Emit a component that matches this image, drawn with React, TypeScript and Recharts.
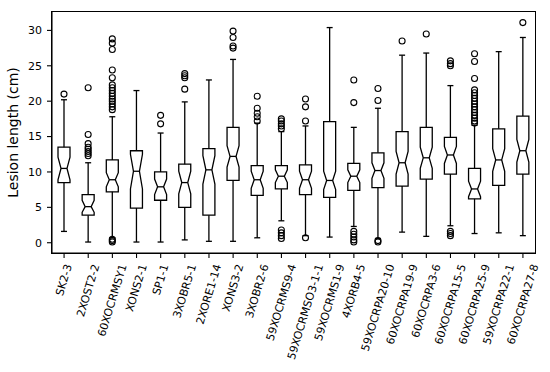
import React from "react";
import { ComposedChart, Bar, XAxis, YAxis, Label } from "recharts";

// Genotype / isolate categories along the x axis
const categories = [
  "SK2-3", "2XOST2-2", "60XOCRMSY1", "XONS2-1", "SP1-1", "3XOBR5-1", "2XORE1-14",
  "XONS3-2", "3XOBR2-6", "59XOCRMS9-4", "59XOCRMSO3-1-1", "59XOCRMS1-9", "4XORB4-5",
  "59XOCRPA20-10", "60XOCRPA19-9", "60XOCRPA3-6", "60XOCRPA15-5", "60XOCRPA25-9",
  "59XOCRPA22-1", "60XOCRPA27-8",
];

// Box statistics (cm)
const whiskerLow = [1.6, 0.1, 0.7, 0.1, 0.1, 0.4, 0.2, 0.2, 0.7, 3.1, 1.0, 0.8, 2.3, 0.6, 1.5, 0.9, 2.4, 1.3, 1.4, 1.0];
const q1 = [8.5, 3.9, 7.2, 4.9, 6.0, 5.0, 3.9, 8.8, 6.7, 7.6, 6.8, 6.4, 7.4, 7.8, 8.0, 9.0, 9.7, 6.2, 8.1, 9.7];
const median = [10.5, 5.1, 8.9, 10.1, 7.9, 8.5, 10.3, 12.2, 8.9, 9.4, 8.9, 8.8, 9.4, 10.2, 11.3, 12.0, 12.4, 7.6, 11.7, 13.0];
const q3 = [13.5, 6.8, 11.7, 13.0, 10.0, 11.1, 13.3, 16.3, 10.9, 10.9, 11.0, 17.1, 11.2, 12.7, 15.7, 16.3, 14.9, 10.5, 16.1, 17.9];
const whiskerHigh = [20.2, 11.3, 17.8, 21.5, 15.5, 19.9, 23.0, 25.9, 16.9, 15.7, 16.5, 30.4, 16.3, 19.0, 26.5, 26.8, 22.2, 16.6, 27.0, 29.0];
const notchLow = [8.9, 4.3, 7.9, 7.6, 6.8, 6.9, 8.3, 10.7, 7.7, 8.5, 7.7, 7.5, 8.5, 9.1, 9.7, 10.5, 11.2, 6.5, 10.1, 11.4];
const notchHigh = [12.1, 6.0, 9.9, 12.5, 9.0, 10.1, 12.3, 13.7, 10.1, 10.3, 10.1, 10.1, 10.3, 11.3, 12.9, 13.5, 13.6, 8.7, 13.3, 14.6];

// Fliers per category
const outliers = [
  [21.0],
  [21.9, 15.3, 14.0, 13.5, 13.2, 12.9, 12.6, 12.3],
  [28.8, 28.2, 27.3, 24.4, 23.3, 22.3, 21.9, 21.5, 21.1, 20.7, 20.3, 20.0, 19.6, 19.2, 18.8, 0.5, 0.3, 0.1],
  [],
  [18.0, 16.8],
  [23.9, 23.6, 23.3, 21.7],
  [],
  [29.9, 29.0, 27.8, 27.5],
  [20.7, 19.0, 18.3, 17.8, 17.2],
  [17.5, 17.2, 16.8, 16.5, 16.1, 1.8, 1.4, 1.0, 0.6],
  [20.3, 19.2, 17.2, 0.7],
  [],
  [23.0, 19.8, 1.6, 1.2, 0.8, 0.4, 0.1],
  [21.8, 20.1, 0.3, 0.1],
  [28.5],
  [29.5],
  [25.7, 25.3, 25.0, 1.6, 1.3, 1.0],
  [26.7, 25.6, 23.2, 21.6, 21.2, 20.8, 20.4, 20.0, 19.6, 19.2, 18.8, 18.4, 18.0, 17.6, 17.2, 16.9],
  [],
  [31.1],
];

const yTicks = [0, 5, 10, 15, 20, 25, 30];
const yDomain: [number, number] = [-1.45, 32.6];

const FONT = "'DejaVu Sans', sans-serif";
const TICK_FONT = 11;
const ANGLE = 73;

// chart layout
const W = 550;
const H = 372;
const MARGIN_TOP = 12;
const MARGIN_RIGHT = 15;
const Y_AXIS_W = 52;
const X_AXIS_H = 119;
const FRAME_W = 1.1;

const data = categories.map((name, idx) => ({
  name,
  idx,
  range: [whiskerLow[idx], whiskerHigh[idx]],
}));

let ctx: CanvasRenderingContext2D | null = null;
const measure = (s: string) => {
  if (!ctx) {
    ctx = document.createElement("canvas").getContext("2d");
  }
  if (!ctx) return s.length * TICK_FONT * 0.65;
  ctx.font = `${TICK_FONT}px 'DejaVu Sans'`;
  return ctx.measureText(s).width;
};

// Rotated label centred under its tick, like matplotlib's default alignment
const XTick = (props: any) => {
  const { x, y, payload } = props;
  const label = String(payload.value);
  const L = measure(label);
  const t = (ANGLE * Math.PI) / 180;
  const h = TICK_FONT;
  const my = y + (L * Math.sin(t) + h * Math.cos(t)) / 2;
  return (
    <text
      x={x}
      y={my}
      transform={`rotate(-${ANGLE} ${x} ${my})`}
      textAnchor="middle"
      dominantBaseline="central"
      fontFamily={FONT}
      fontSize={TICK_FONT}
      fill="#000"
    >
      {label}
    </text>
  );
};

// Notched box with whiskers, caps and fliers drawn inside the whisker range bar
const BoxShape = (props: any) => {
  const { x, y, width, height, payload } = props;
  const i = payload.idx;
  const lo = whiskerLow[i];
  const hi = whiskerHigh[i];
  const top = Math.min(y, y + height);
  const k = Math.abs(height) / (hi - lo);
  const py = (v: number) => top + (hi - v) * k;
  const cx = x + width / 2;
  const l = x;
  const r = x + width;
  const nl = cx - width / 4;
  const nr = cx + width / 4;
  const cap = width / 4;
  const path = [
    `M${l},${py(q1[i])}`,
    `L${l},${py(notchLow[i])}`,
    `L${nl},${py(median[i])}`,
    `L${l},${py(notchHigh[i])}`,
    `L${l},${py(q3[i])}`,
    `L${r},${py(q3[i])}`,
    `L${r},${py(notchHigh[i])}`,
    `L${nr},${py(median[i])}`,
    `L${r},${py(notchLow[i])}`,
    `L${r},${py(q1[i])}`,
    "Z",
  ].join(" ");
  const sw = 1.3;
  return (
    <g stroke="#000" strokeWidth={sw} fill="none">
      <line x1={cx} x2={cx} y1={py(q3[i])} y2={py(hi)} />
      <line x1={cx} x2={cx} y1={py(q1[i])} y2={py(lo)} />
      <line x1={cx - cap} x2={cx + cap} y1={py(hi)} y2={py(hi)} />
      <line x1={cx - cap} x2={cx + cap} y1={py(lo)} y2={py(lo)} />
      <path d={path} />
      <line x1={nl} x2={nr} y1={py(median[i])} y2={py(median[i])} />
      {outliers[i].map((v, j) => (
        <circle key={j} cx={cx} cy={py(v)} r={3} strokeWidth={1.1} />
      ))}
    </g>
  );
};

const YLabel = (props: any) => {
  const { viewBox } = props;
  const cx = 12.5;
  const cy = viewBox.y + viewBox.height / 2;
  return (
    <text
      x={cx}
      y={cy}
      transform={`rotate(-90 ${cx} ${cy})`}
      textAnchor="middle"
      dominantBaseline="central"
      fontFamily={FONT}
      fontSize={14}
      fill="#000"
    >
      Lesion length (cm)
    </text>
  );
};

export default function App() {
  const axisStroke = { stroke: "#000", strokeWidth: FRAME_W };
  // plot box, same as the chart's own offset from the margins/axis sizes
  const plotW = W - MARGIN_RIGHT - Y_AXIS_W;
  const plotH = H - MARGIN_TOP - X_AXIS_H;
  return (
    <div style={{ position: "absolute", left: 0, top: 0, width: W, height: H, background: "#fff" }}>
      <ComposedChart
        width={W}
        height={H}
        data={data}
        margin={{ top: MARGIN_TOP, right: MARGIN_RIGHT, bottom: 0, left: 0 }}
      >
        <XAxis
          dataKey="name"
          interval={0}
          height={X_AXIS_H}
          tickSize={5}
          tickMargin={5}
          tick={<XTick />}
          axisLine={axisStroke}
          tickLine={axisStroke}
        />
        <YAxis
          type="number"
          domain={yDomain}
          ticks={yTicks}
          allowDataOverflow
          width={Y_AXIS_W}
          tickSize={5}
          tickMargin={5}
          tick={{ fontFamily: FONT, fontSize: TICK_FONT, fill: "#000" }}
          axisLine={axisStroke}
          tickLine={axisStroke}
        >
          <Label content={<YLabel />} />
        </YAxis>
        <Bar
          dataKey="range"
          barSize={12}
          shape={<BoxShape />}
          isAnimationActive={false}
        />
      </ComposedChart>
      {/* axes frame (top / right edges) */}
      <div
        style={{
          position: "absolute",
          left: Y_AXIS_W - FRAME_W / 2,
          top: MARGIN_TOP - FRAME_W / 2,
          width: plotW + FRAME_W,
          height: plotH + FRAME_W,
          border: `${FRAME_W}px solid #000`,
          boxSizing: "border-box",
          pointerEvents: "none",
        }}
      />
    </div>
  );
}
